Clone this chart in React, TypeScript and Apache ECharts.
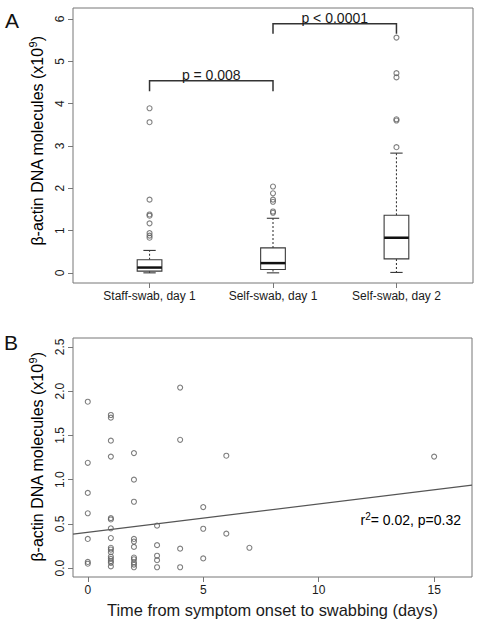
import React, { useEffect, useRef } from "react";
import * as echarts from "echarts";

// ---- Panel A: beta-actin DNA per swab type ----
const categories = ["Staff-swab, day 1", "Self-swab, day 1", "Self-swab, day 2"];
const whiskerLow = [0.0, 0.0, 0.01];
const quartile1 = [0.04, 0.08, 0.33];
const medians = [0.125, 0.23, 0.83];
const quartile3 = [0.31, 0.59, 1.36];
const whiskerHigh = [0.53, 1.29, 2.83];
const outliers = [
  [3.89, 3.56, 1.73, 1.38, 1.35, 1.17, 0.94, 0.88, 0.83],
  [2.04, 1.88, 1.73, 1.68, 1.45, 1.42],
  [5.56, 4.72, 4.62, 3.63, 3.6, 2.97],
];
const yTicksA = [0, 1, 2, 3, 4, 5, 6];

const bracketFrom = [1, 2];
const bracketTo = [2, 3];
const bracketTop = [4.54, 5.89];
const bracketFoot = [4.29, 5.65];
const bracketLabels = ["p = 0.008", "p < 0.0001"];

// ---- Panel B: beta-actin DNA vs. days since symptom onset ----
const onsetDays = [
  0, 0, 0, 0, 0, 0, 0,
  1, 1, 1, 1, 1, 1, 1, 1, 1, 1, 1, 1, 1, 1, 1, 1,
  2, 2, 2, 2, 2, 2, 2, 2, 2, 2, 2,
  3, 3, 3, 3, 3,
  4, 4, 4, 4,
  5, 5, 5,
  6, 6,
  7,
  15,
];
const actinCopies = [
  1.88, 1.19, 0.85, 0.62, 0.33, 0.07, 0.05,
  1.73, 1.7, 1.44, 1.26, 0.565, 0.55, 0.45, 0.34, 0.23, 0.21, 0.18, 0.13, 0.105, 0.08, 0.06, 0.02,
  1.3, 1.0, 0.75, 0.33, 0.3, 0.24, 0.12, 0.1, 0.065, 0.04, 0.01,
  0.48, 0.26, 0.14, 0.09, 0.01,
  2.04, 1.45, 0.22, 0.01,
  0.69, 0.445, 0.11,
  1.27, 0.39,
  0.23,
  1.26,
];
const xTicksB = [0, 5, 10, 15];
const yTicksB = [0, 0.5, 1, 1.5, 2, 2.5];
const fitIntercept = 0.405;
const fitSlope = 0.032;

const FONT = "'Liberation Sans', Arial, Helvetica, sans-serif";
const FRAME = "#777";
const INK = "#1a1a1a";
const POINT = "#5e5e5e";

const xMinA = 0.38;
const xMaxA = 3.62;
const xMinB = -0.64;
const xMaxB = 16.64;

function valueAxis(gridIndex: number, min: number, max: number, ticks: number[], opts: any = {}) {
  return {
    gridIndex,
    type: "value",
    min,
    max,
    axisLine: { show: false, onZero: false },
    splitLine: { show: false },
    axisTick: {
      show: true,
      customValues: ticks,
      length: 5,
      lineStyle: { color: FRAME, width: 1 },
    },
    axisLabel: {
      customValues: ticks,
      fontSize: 12,
      fontFamily: FONT,
      color: INK,
      ...opts,
    },
  };
}

const supRich = {
  m: { fontSize: 16, fontFamily: FONT, color: INK, lineHeight: 20 },
  s: { fontSize: 11, fontFamily: FONT, color: INK, lineHeight: 11, verticalAlign: "top" },
};
const yTitle = "{m|β-actin DNA molecules (x10}{s|9}{m|)}";

export default function App() {
  const ref = useRef<HTMLDivElement>(null);

  useEffect(() => {
    document.body.style.margin = "0";
    if (!ref.current) return;
    const chart = echarts.init(ref.current, null, { renderer: "svg" });

    const boxData = categories.map((_, i) => [
      i + 1,
      whiskerLow[i],
      quartile1[i],
      medians[i],
      quartile3[i],
      whiskerHigh[i],
    ]);
    const outlierData = outliers.flatMap((arr, i) => arr.map((v) => [i + 1, v]));
    const bracketData = bracketFrom.map((f, i) => [f, bracketTo[i], bracketTop[i], bracketFoot[i]]);
    const pointData = onsetDays.map((d, i) => [d, actinCopies[i]]);
    const fitData = [
      [xMinB, fitIntercept + fitSlope * xMinB],
      [xMaxB, fitIntercept + fitSlope * xMaxB],
    ];

    chart.setOption({
      animation: false,
      grid: [
        {
          left: 73,
          top: 8,
          width: 400,
          height: 275,
          show: true,
          borderColor: FRAME,
          borderWidth: 1,
          backgroundColor: "transparent",
        },
        {
          left: 73,
          top: 338,
          width: 399,
          height: 239,
          show: true,
          borderColor: FRAME,
          borderWidth: 1,
          backgroundColor: "transparent",
        },
      ],
      xAxis: [
        valueAxis(0, xMinA, xMaxA, [1, 2, 3], {
          margin: 7,
          formatter: (v: number) => categories[Math.round(v) - 1] ?? "",
        }),
        valueAxis(1, xMinB, xMaxB, xTicksB, { margin: 7 }),
      ],
      yAxis: [
        valueAxis(0, -0.24, 6.26, yTicksA, { rotate: 90, margin: 7 }),
        valueAxis(1, -0.1, 2.6, yTicksB, {
          rotate: 90,
          margin: 7,
          formatter: (v: number) => v.toFixed(1),
        }),
      ],
      series: [
        {
          type: "custom",
          xAxisIndex: 0,
          yAxisIndex: 0,
          data: boxData,
          encode: { x: 0, y: [1, 2, 3, 4, 5] },
          renderItem: (_params: any, api: any) => {
            const x = api.value(0);
            const lo = api.coord([x, api.value(1)]);
            const q1 = api.coord([x, api.value(2)]);
            const md = api.coord([x, api.value(3)]);
            const q3 = api.coord([x, api.value(4)]);
            const hi = api.coord([x, api.value(5)]);
            const cx = lo[0];
            const half = api.size([0.2, 0])[0] / 2;
            const cap = half / 2;
            const thin = { stroke: "#3a3a3a", lineWidth: 1.1, fill: "none" };
            const dashed = { stroke: "#3a3a3a", lineWidth: 1.1, lineDash: [2, 2] };
            return {
              type: "group",
              children: [
                { type: "line", shape: { x1: cx, y1: q3[1], x2: cx, y2: hi[1] }, style: dashed },
                { type: "line", shape: { x1: cx, y1: q1[1], x2: cx, y2: lo[1] }, style: dashed },
                { type: "line", shape: { x1: cx - cap, y1: hi[1], x2: cx + cap, y2: hi[1] }, style: thin },
                { type: "line", shape: { x1: cx - cap, y1: lo[1], x2: cx + cap, y2: lo[1] }, style: thin },
                {
                  type: "rect",
                  shape: { x: cx - half, y: q3[1], width: half * 2, height: q1[1] - q3[1] },
                  style: { stroke: "#3a3a3a", lineWidth: 1.1, fill: "#fff" },
                },
                {
                  type: "line",
                  shape: { x1: cx - half, y1: md[1], x2: cx + half, y2: md[1] },
                  style: { stroke: "#111", lineWidth: 2.5 },
                },
              ],
            };
          },
          z: 2,
        },
        {
          type: "scatter",
          xAxisIndex: 0,
          yAxisIndex: 0,
          data: outlierData,
          symbol: "circle",
          symbolSize: 5,
          itemStyle: { color: "transparent", borderColor: POINT, borderWidth: 1.1 },
          z: 3,
        },
        {
          type: "custom",
          xAxisIndex: 0,
          yAxisIndex: 0,
          data: bracketData,
          encode: { x: [0, 1], y: [2, 3] },
          renderItem: (params: any, api: any) => {
            const a = api.coord([api.value(0), api.value(2)]);
            const b = api.coord([api.value(1), api.value(2)]);
            const footY = api.coord([api.value(0), api.value(3)])[1];
            return {
              type: "group",
              children: [
                {
                  type: "polyline",
                  shape: {
                    points: [
                      [a[0], footY],
                      [a[0], a[1]],
                      [b[0], b[1]],
                      [b[0], footY],
                    ],
                  },
                  style: { stroke: "#333", lineWidth: 1.5, fill: "none" },
                },
                {
                  type: "text",
                  style: {
                    text: bracketLabels[params.dataIndex],
                    x: (a[0] + b[0]) / 2,
                    y: a[1] + 1,
                    align: "center",
                    verticalAlign: "bottom",
                    fontSize: 14,
                    fontFamily: FONT,
                    fill: INK,
                  },
                },
              ],
            };
          },
          z: 4,
        },
        {
          type: "scatter",
          xAxisIndex: 1,
          yAxisIndex: 1,
          data: pointData,
          symbol: "circle",
          symbolSize: 5,
          itemStyle: { color: "transparent", borderColor: POINT, borderWidth: 1.1 },
          z: 3,
        },
        {
          type: "line",
          xAxisIndex: 1,
          yAxisIndex: 1,
          data: fitData,
          symbol: "none",
          lineStyle: { color: "#555", width: 1.2 },
          z: 2,
        },
      ],
      graphic: [
        {
          type: "text",
          x: 12,
          y: 20,
          style: { text: "A", fontSize: 21, fontFamily: FONT, fill: "#111", align: "center", verticalAlign: "middle" },
        },
        {
          type: "text",
          x: 11,
          y: 342,
          style: { text: "B", fontSize: 21, fontFamily: FONT, fill: "#111", align: "center", verticalAlign: "middle" },
        },
        {
          type: "text",
          x: 37,
          y: 141,
          rotation: Math.PI / 2,
          style: { text: yTitle, rich: supRich, align: "center", verticalAlign: "middle" },
        },
        {
          type: "text",
          x: 37,
          y: 457,
          rotation: Math.PI / 2,
          style: { text: yTitle, rich: supRich, align: "center", verticalAlign: "middle" },
        },
        {
          type: "text",
          x: 272.5,
          y: 609.5,
          style: {
            text: "Time from symptom onset to swabbing (days)",
            fontSize: 16.4,
            fontFamily: FONT,
            fill: INK,
            align: "center",
            verticalAlign: "middle",
          },
        },
        {
          type: "text",
          x: 461,
          y: 520,
          style: {
            text: "{m|r}{s|2}{m|= 0.02, p=0.32}",
            rich: {
              m: { fontSize: 14, fontFamily: FONT, color: INK, lineHeight: 18 },
              s: { fontSize: 10, fontFamily: FONT, color: INK, lineHeight: 10, verticalAlign: "top" },
            },
            align: "right",
            verticalAlign: "middle",
          },
        },
      ],
    });

    return () => chart.dispose();
  }, []);

  return (
    <div
      ref={ref}
      style={{ position: "fixed", left: 0, top: 0, width: 478, height: 624, background: "#fff" }}
    />
  );
}
